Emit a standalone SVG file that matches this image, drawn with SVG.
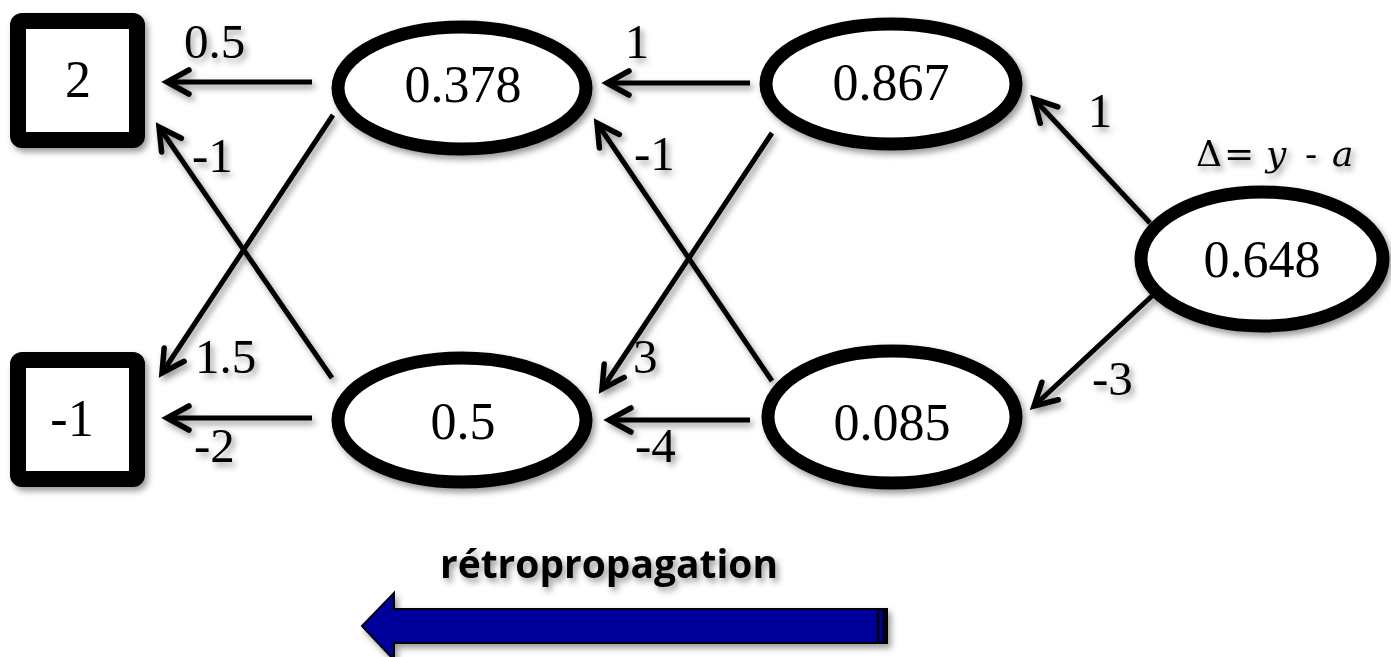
<svg xmlns="http://www.w3.org/2000/svg" width="1391" height="657" viewBox="0 0 1391 657">
<style>
.box{fill:#fff;stroke:#000;stroke-width:16;}
.ell{fill:#fff;stroke:#000;stroke-width:13;}
.nt{font-family:"Liberation Serif","Times New Roman",serif;font-size:52px;fill:#000;text-anchor:middle;}
.lb{font-family:"Liberation Serif","Times New Roman",serif;font-size:49px;fill:#000;}
.eq{font-family:"DejaVu Serif","Liberation Serif",serif;font-size:36px;fill:#000;}
.bp{font-family:"Open Sans","Liberation Sans",sans-serif;font-weight:bold;font-size:39px;fill:#000;}
.ed{stroke:#000;stroke-width:5;fill:none;marker-end:url(#ah);}
</style>
<defs>
<filter id="sh" x="-20%" y="-20%" width="140%" height="140%">
<feDropShadow dx="3" dy="4" stdDeviation="3" flood-color="#000" flood-opacity="0.4"/>
</filter>
<marker id="ah" markerUnits="userSpaceOnUse" markerWidth="40" markerHeight="40" refX="0" refY="0" orient="auto" overflow="visible">
<path d="M -22 -12 L 0 0 L -22 12" fill="none" stroke="#000" stroke-width="5.5" stroke-linecap="round" stroke-linejoin="miter"/>
</marker>
</defs>

<g id="connectors" filter="url(#sh)">
<line class="ed" x1="312" y1="82" x2="167" y2="82"/>
<line class="ed" x1="332" y1="378" x2="159" y2="127"/>
<line class="ed" x1="333" y1="115" x2="162" y2="373"/>
<line class="ed" x1="312" y1="418" x2="167" y2="418"/>
<line class="ed" x1="750" y1="83" x2="607" y2="83"/>
<line class="ed" x1="772" y1="381" x2="597" y2="123"/>
<line class="ed" x1="772" y1="133" x2="602" y2="389"/>
<line class="ed" x1="750" y1="420" x2="609" y2="420"/>
<line class="ed" x1="1150" y1="223" x2="1034" y2="99"/>
<line class="ed" x1="1153" y1="295" x2="1034" y2="406"/>
</g>

<g id="labels" filter="url(#sh)">
<text class="lb" x="184" y="58">0.5</text>
<text class="lb" x="192" y="172">-1</text>
<text class="lb" x="195" y="373">1.5</text>
<text class="lb" x="194" y="462">-2</text>
<text class="lb" x="637" y="58" text-anchor="middle">1</text>
<text class="lb" x="634" y="170">-1</text>
<text class="lb" x="633" y="373">3</text>
<text class="lb" x="635" y="462">-4</text>
<text class="lb" x="1100" y="127" text-anchor="middle">1</text>
<text class="lb" x="1092" y="395">-3</text>
</g>

<g id="in1" filter="url(#sh)">
<rect class="box" x="18" y="21" width="119" height="119" rx="4"/>
<text class="nt" x="78" y="97">2</text>
</g>
<g id="in2" filter="url(#sh)">
<rect class="box" x="18" y="360" width="119" height="119" rx="4"/>
<text class="nt" x="72" y="436">-1</text>
</g>
<g id="h1" filter="url(#sh)">
<ellipse class="ell" cx="462" cy="88" rx="124" ry="61"/>
<text class="nt" x="463" y="102">0.378</text>
</g>
<g id="h2" filter="url(#sh)">
<ellipse class="ell" cx="462" cy="420" rx="124" ry="62"/>
<text class="nt" x="463" y="439">0.5</text>
</g>
<g id="h3" filter="url(#sh)">
<ellipse class="ell" cx="891" cy="84" rx="125" ry="60"/>
<text class="nt" x="891" y="100">0.867</text>
</g>
<g id="h4" filter="url(#sh)">
<ellipse class="ell" cx="892" cy="417" rx="124" ry="66"/>
<text class="nt" x="892" y="440">0.085</text>
</g>
<g id="out" filter="url(#sh)">
<ellipse class="ell" cx="1262" cy="259" rx="121" ry="67"/>
<text class="nt" x="1262" y="277">0.648</text>
</g>
<g id="delta" filter="url(#sh)">
<text class="eq" x="1196" y="166">Δ</text>
<text class="eq" x="1224" y="166">=</text>
<text class="eq" style="font-style:italic" x="1266" y="166">y</text>
<text class="eq" x="1305" y="166">-</text>
<text class="eq" style="font-style:italic" x="1332" y="166">a</text>
</g>

<g id="backprop" filter="url(#sh)">
<text class="bp" x="609" y="578" text-anchor="middle" textLength="338" lengthAdjust="spacingAndGlyphs">rétropropagation</text>
<path d="M 362 626 L 394 593 L 394 609 L 887 609 L 887 643 L 394 643 L 394 660 Z" fill="#06069c" stroke="#000" stroke-width="2" stroke-linejoin="miter"/>
<line x1="878" y1="609" x2="878" y2="643" stroke="#000" stroke-width="2.5"/>
<line x1="884" y1="609" x2="884" y2="643" stroke="#000" stroke-width="3"/>
</g>
</svg>
